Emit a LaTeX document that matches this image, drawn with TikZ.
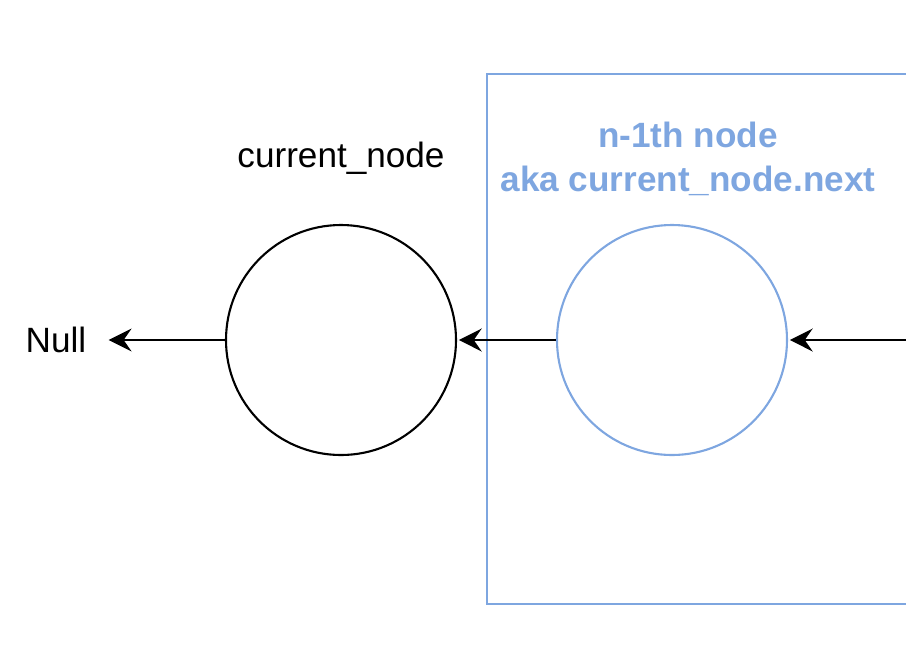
\documentclass[tikz,border=0pt]{standalone}
\usepackage{fontspec}
\setmainfont{Liberation Sans}
\usetikzlibrary{arrows.meta}
\definecolor{nodeblue}{HTML}{7EA6E0}

\begin{document}
\begin{tikzpicture}[-,>={Stealth[length=13pt,width=13pt,inset=4.5pt]},shorten >=1pt,auto,node distance=6.62cm,
  line width=1.2pt,
  main node/.style={circle,draw,inner sep=0pt,minimum size=4.6cm},
  txt/.style={font=\fontsize{20}{25}\selectfont,align=center}]

    \clip (0,0) rectangle (18.12,-13.04);

	\node[main node] (1) at (6.82,-6.8) {};
    \node[main node, nodeblue] (2) [right of=1] {};
    \node[txt] (null) [left of=1, node distance=5.7cm] {Null};
    \node[txt] (lbl1) [above of=1, node distance=3.64cm] {current\_node};
    \node[txt, nodeblue, font=\fontsize{20}{25}\selectfont\bfseries] (lbl2) [above of=2, node distance=3.62cm, xshift=0.32cm] {n-1th node\\aka current\_node.next};
    \coordinate (in) at (18.4,-6.8);

    \draw[nodeblue] (9.74,-1.48) rectangle (18.6,-12.08);

    \path (1) edge [->, shorten >=0.31cm] (null);
    \path (2) edge [->] (1);
    \path (in) edge [->] (2);

\end{tikzpicture}
\end{document}
